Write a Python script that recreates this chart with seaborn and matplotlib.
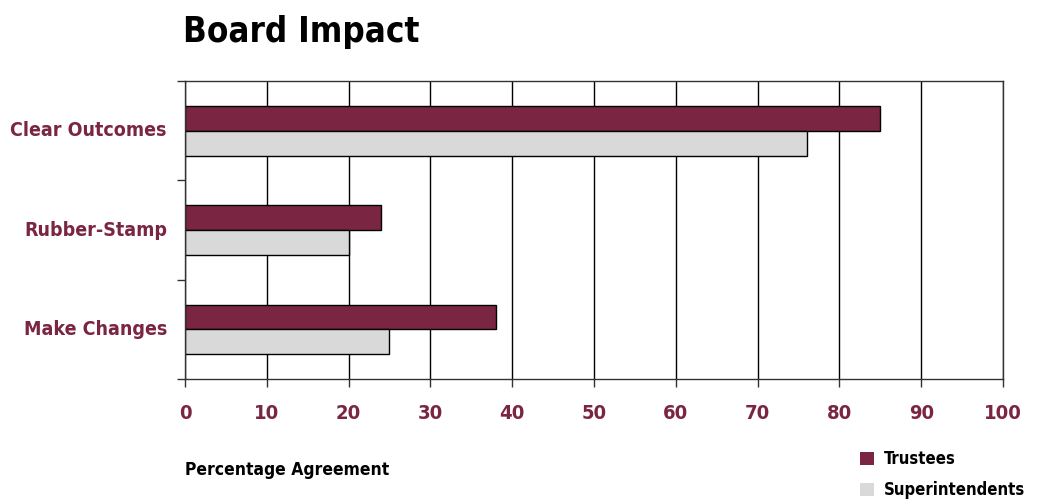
import matplotlib
matplotlib.use("Agg")
import matplotlib.pyplot as plt
from matplotlib.patches import Patch
import seaborn as sns
import pandas as pd

# Data
categories = ["Clear Outcomes", "Rubber-Stamp", "Make Changes"]
groups = ["Trustees", "Superintendents"]
trustees = [85, 24, 38]
superintendents = [76, 20, 25]
x_ticks = [0, 10, 20, 30, 40, 50, 60, 70, 80, 90, 100]

maroon = "#7A2642"
light_gray = "#D9D9D9"

df = pd.DataFrame({
    "category": categories * 2,
    "group": [groups[0]] * 3 + [groups[1]] * 3,
    "value": trustees + superintendents,
})

sns.set_theme(style="white")
plt.rcParams["font.family"] = ["DejaVu Sans"]
plt.rcParams["font.stretch"] = "condensed"
plt.rcParams["text.color"] = "black"

fig = plt.figure(figsize=(10.37, 5.01), dpi=100)
ax = fig.add_axes([0.1784, 0.2435, 0.7888, 0.5948])

sns.barplot(data=df, y="category", x="value", hue="group", order=categories,
            hue_order=groups, palette=[maroon, light_gray], orient="h",
            width=0.5, saturation=1, edgecolor="black", linewidth=1.0,
            legend=False, ax=ax)

ax.set_xlim(0, 100)
ax.set_ylim(2.5, -0.5)
ax.set_xticks(x_ticks)
ax.set_xticklabels([str(t) for t in x_ticks], color=maroon, fontsize=14.5,
                   fontweight="bold")
ax.set_yticks(range(len(categories)))
ax.set_yticklabels(categories, color=maroon, fontsize=14, fontweight="bold",
                   va="bottom")
for lbl in ax.get_yticklabels():
    lbl.set_y(lbl.get_position()[1])
ax.set_yticks([-0.5, 0.5, 1.5, 2.5], minor=True)
ax.tick_params(axis="y", which="major", length=0, pad=13)
ax.tick_params(axis="y", which="minor", length=6, width=1, color="#333333",
               direction="out", left=True)
ax.tick_params(axis="x", which="major", length=6, width=1, color="#333333",
               direction="out", bottom=True, pad=12)
ax.set_yticklabels(categories, color=maroon, fontsize=14, fontweight="bold",
                   va="center")
ax.set_xlabel("")
ax.set_ylabel("")

ax.grid(axis="x", color="black", linewidth=1.0)
ax.set_axisbelow(True)
for side in ["left", "bottom", "top", "right"]:
    ax.spines[side].set_visible(True)
    ax.spines[side].set_color("#333333")
    ax.spines[side].set_linewidth(1.0)

fig.text(183 / 1037, 1 - 42 / 501, "Board Impact", fontsize=25,
         fontweight="bold", color="black", ha="left", va="baseline")
fig.text(185 / 1037, 1 - 475 / 501, "Percentage Agreement", fontsize=12.5,
         fontweight="bold", color="black", ha="left", va="baseline")

# Legend
handles = [Patch(facecolor=maroon, edgecolor="none"),
           Patch(facecolor=light_gray, edgecolor="none")]
fig.legend(handles, groups, loc="upper left",
           bbox_to_anchor=(845 / 1037, 1 - 435 / 501), frameon=False,
           prop={"weight": "bold", "size": 12}, handlelength=0.85,
           handleheight=0.85, handletextpad=0.6, labelspacing=0.8,
           labelcolor="black")

fig.savefig("out.png", dpi=100)
